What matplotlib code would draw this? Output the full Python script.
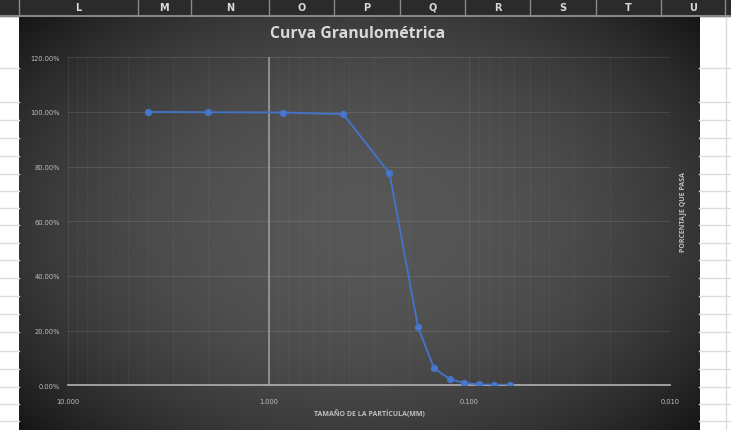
import numpy as np
import matplotlib
matplotlib.use("Agg")
import matplotlib.pyplot as plt
import matplotlib.ticker as plticker
from matplotlib.patches import Rectangle

# datos de la curva granulometrica
tamano_mm = [4.00, 2.00, 0.85, 0.425, 0.25, 0.18, 0.15, 0.125, 0.106, 0.090, 0.075, 0.063]
pct_pasa = [1.000, 0.999, 0.998, 0.992, 0.776, 0.212, 0.063, 0.022, 0.009, 0.003, 0.002, 0.002]

y_ticks = [0.0, 0.2, 0.4, 0.6, 0.8, 1.0, 1.2]
x_ticks = [10.0, 1.0, 0.1, 0.01]
columnas = ["L", "M", "N", "O", "P", "Q", "R", "S", "T", "U"]
col_bordes = [18.6, 137.5, 191, 269, 334, 400, 465, 530, 596, 661, 725]
filas_y = [69, 103, 121, 139, 157, 175, 192, 209, 226, 244, 261, 279, 297, 315, 333, 352, 370, 388, 405, 422]

W, H = 731, 431
fig = plt.figure(figsize=(W / 100, H / 100), dpi=100)
fig.patch.set_facecolor("white")

def fx(px):
    return px / W

def fy(py):
    return 1 - py / H

# limites del grafico incrustado
x0, x1, y0, y1 = 18.5, 699, 18, 431

# hoja de calculo de fondo (solo fuera del grafico)
for yy in filas_y:
    fig.add_artist(plt.Line2D([0, fx(x0)], [fy(yy), fy(yy)], color="#dcdcdc", lw=1))
    fig.add_artist(plt.Line2D([fx(x1), 1], [fy(yy), fy(yy)], color="#dcdcdc", lw=1))
fig.add_artist(plt.Line2D([fx(726), fx(726)], [0, fy(17)], color="#dcdcdc", lw=1))

# cabecera de columnas
fig.add_artist(Rectangle((0, fy(16.5)), 1, 16.5 / H, color="#2b2b2b", transform=fig.transFigure))
fig.add_artist(plt.Line2D([0, 1], [fy(17), fy(17)], color="#9a9a9a", lw=1.2))
for b in col_bordes:
    fig.add_artist(plt.Line2D([fx(b), fx(b)], [fy(16.5), 1], color="#8a8a8a", lw=1))
for i, c in enumerate(columnas):
    xc = (col_bordes[i] + col_bordes[i + 1]) / 2
    fig.text(fx(xc), fy(8), c, color="#d8d8d8", fontsize=7, fontweight="bold",
             ha="center", va="center", family="DejaVu Sans")

# fondo del grafico con degradado radial
bg = fig.add_axes([fx(x0), 0, fx(x1 - x0), (y1 - y0) / H])
gx, gy = np.meshgrid(np.linspace(-1, 1, 300), np.linspace(-1, 1, 200))
r = np.sqrt((gx * 0.95) ** 2 + (gy * 0.85) ** 2)
v = 0.34 - 0.15 * r ** 2.2
bg.imshow(np.dstack([v, v, v]), aspect="auto", extent=[0, 1, 0, 1], interpolation="bilinear")
bg.set_axis_off()

ax = fig.add_axes([fx(68), fy(386.3), fx(670 - 68), (386.3 - 58.3) / H])
ax.patch.set_alpha(0)
ax.set_xscale("log")
ax.set_xlim(10, 0.01)
ax.set_ylim(0, 1.2)

ax.yaxis.set_major_locator(plticker.FixedLocator(y_ticks))
ax.xaxis.set_major_locator(plticker.FixedLocator(x_ticks))
ax.xaxis.set_minor_locator(plticker.LogLocator(base=10, subs=np.arange(2, 10)))
ax.xaxis.set_minor_formatter(plticker.NullFormatter())
ax.xaxis.set_major_formatter(plticker.FuncFormatter(lambda v, p: "{:.3f}".format(v)))
ax.yaxis.set_major_formatter(plticker.FuncFormatter(lambda v, p: "{:.2f}%".format(v * 100)))

ax.grid(which="major", axis="y", color="white", alpha=0.1, lw=0.8)
ax.grid(which="major", axis="x", color="white", alpha=0.07, lw=0.8)
ax.grid(which="minor", axis="x", color="white", alpha=0.045, lw=0.6)
for s in ["top", "right", "left"]:
    ax.spines[s].set_visible(False)
ax.spines["bottom"].set_color("#a8a8a8")
ax.spines["bottom"].set_linewidth(1.3)
ax.axvline(1.0, color="#a0a0a0", lw=1.1, zorder=2)

ax.tick_params(which="both", length=0, colors="#bfbfbf", labelsize=4.8)
ax.tick_params(axis="x", pad=9)
ax.tick_params(axis="y", pad=6)

ax.plot(tamano_mm, pct_pasa, color="#4472c4", lw=1.4, marker="o", ms=4.3,
        markerfacecolor="#4a78cc", markeredgecolor="#4472c4", zorder=3)

fig.text(fx(358), fy(34), "Curva Granulométrica", color="#d9d9d9", fontsize=11.3,
         fontweight="bold", ha="center", va="center", family="Open Sans")
fig.text(fx(369), fy(414), "TAMAÑO DE LA PARTÍCULA(MM)", color="#bfbfbf", fontsize=5,
         fontweight="bold", ha="center", va="center", family="Open Sans")
fig.text(fx(683), fy(212), "PORCENTAJE QUE PASA", color="#bfbfbf", fontsize=5,
         fontweight="bold", ha="center", va="center", rotation=90, family="Open Sans")

plt.savefig("out.png", dpi=100)
